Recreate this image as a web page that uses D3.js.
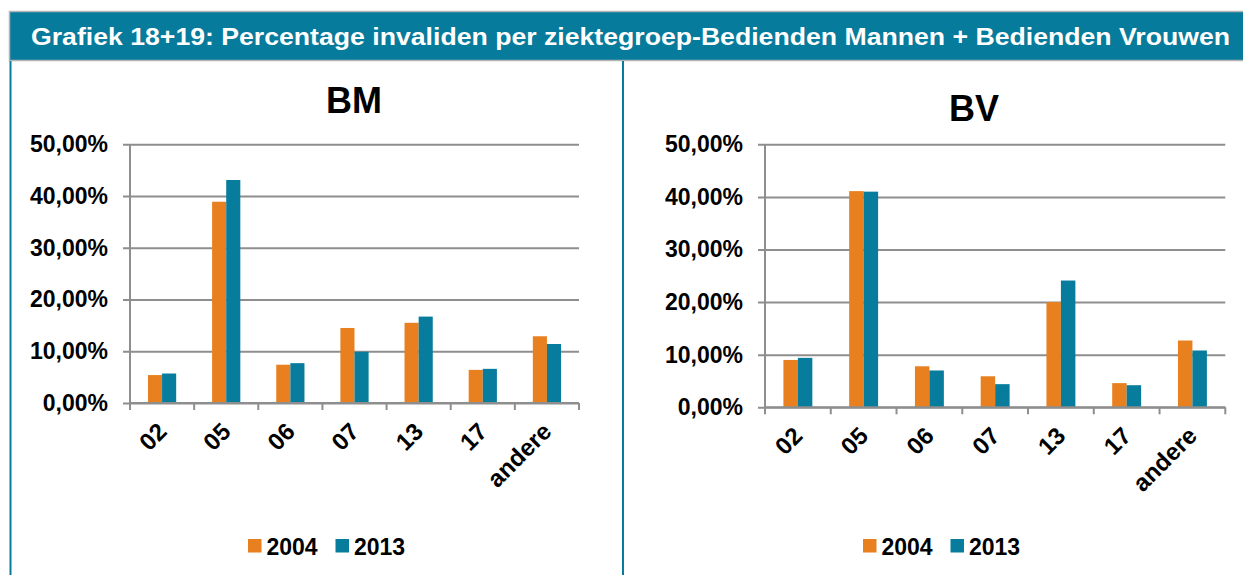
<!DOCTYPE html>
<html lang="nl">
<head>
  <meta charset="UTF-8">
  <title>Grafiek 18+19</title>
  <script src="https://d3js.org/d3.v7.min.js"></script>
  <style>
    body { margin: 0; background: #fff; }
    svg { display: block; font-family: "Liberation Sans", Arial, sans-serif; }
    .tick text { font-weight: bold; fill: #000; }
    .legend text { font-weight: bold; font-size: 23px; }
  </style>
</head>
<body>
  <div id="chart"></div>
  <script>
    // values (percent)
    const categories = ["02", "05", "06", "07", "13", "17", "andere"];
    const years = ["2004", "2013"];
    const bm2004 = [5.4, 38.9, 7.4, 14.5, 15.5, 6.4, 12.9];
    const bm2013 = [5.7, 43.1, 7.7, 9.9, 16.7, 6.6, 11.4];
    const bv2004 = [9.0, 41.1, 7.8, 5.9, 20.0, 4.6, 12.7];
    const bv2013 = [9.4, 41.0, 7.0, 4.4, 24.1, 4.2, 10.8];
    const yTicks = [0, 10, 20, 30, 40, 50];

    const colors = { "2004": "#e8801f", "2013": "#077c9c" };
    const teal = "#077b9b";
    const grid = "#8e8e8e";

    const W = 1243, H = 575;
    const svg = d3.select("#chart").append("svg")
      .attr("width", W)
      .attr("height", H);

    // header bar
    svg.append("rect")
      .attr("x", 9.5).attr("y", 11.5)
      .attr("width", 1240).attr("height", 49)
      .attr("fill", teal)
      .attr("stroke", "#b5b5b5")
      .attr("stroke-width", 1.5);

    svg.append("text")
      .attr("x", 31).attr("y", 45)
      .attr("fill", "#fff")
      .attr("font-size", 23)
      .attr("font-weight", "bold")
      .attr("textLength", 1199)
      .attr("lengthAdjust", "spacingAndGlyphs")
      .text("Grafiek 18+19: Percentage invaliden per ziektegroep-Bedienden Mannen + Bedienden Vrouwen");

    // panel borders
    svg.append("line").attr("x1", 10.5).attr("x2", 10.5).attr("y1", 61).attr("y2", H)
      .attr("stroke", teal).attr("stroke-width", 2);
    svg.append("line").attr("x1", 623).attr("x2", 623).attr("y1", 61).attr("y2", H)
      .attr("stroke", teal).attr("stroke-width", 2);

    const fmt = d => d.toFixed(2).replace(".", ",") + "%";

    const panels = [
      { title: "BM", titleX: 354, titleY: 113, x0: 130, x1: 579, y0: 403, y1: 144.3,
        series: { "2004": bm2004, "2013": bm2013 }, legendX: 248 },
      { title: "BV", titleX: 974, titleY: 121, x0: 765, x1: 1225.3, y0: 407.3, y1: 144.3,
        series: { "2004": bv2004, "2013": bv2013 }, legendX: 863 }
    ];

    panels.forEach(p => {
      const g = svg.append("g");

      const x = d3.scaleBand().domain(categories).range([p.x0, p.x1]).padding(0);
      const bw = x.bandwidth();
      const xSub = d3.scaleBand().domain(years).range([bw * 0.28, bw * 0.72]).padding(0);
      const y = d3.scaleLinear().domain([0, 50]).range([p.y0, p.y1]);

      // title
      g.append("text")
        .attr("x", p.titleX).attr("y", p.titleY)
        .attr("text-anchor", "middle")
        .attr("font-size", 36)
        .attr("font-weight", "bold")
        .text(p.title);

      // y axis with gridlines
      const ya = g.append("g")
        .attr("transform", `translate(${p.x0},0)`)
        .call(d3.axisLeft(y).tickValues(yTicks).tickFormat(fmt)
          .tickSize(-(p.x1 - p.x0)).tickSizeOuter(0));
      ya.select(".domain").remove();
      ya.selectAll(".tick line")
        .attr("x1", -7)
        .attr("stroke", grid)
        .attr("stroke-width", 2);
      ya.selectAll(".tick text")
        .attr("x", -22)
        .attr("font-size", 23);

      // y axis line
      g.append("line")
        .attr("x1", p.x0).attr("x2", p.x0)
        .attr("y1", y(50)).attr("y2", y(0) + 6)
        .attr("stroke", grid).attr("stroke-width", 2);

      // bars
      years.forEach(yr => {
        g.append("g").selectAll("rect")
          .data(categories.map((c, i) => ({ c, v: p.series[yr][i] })))
          .join("rect")
          .attr("x", d => x(d.c) + xSub(yr))
          .attr("y", d => y(d.v))
          .attr("width", xSub.bandwidth())
          .attr("height", d => y(0) - y(d.v))
          .attr("fill", colors[yr]);
      });

      // x axis line + boundary ticks
      g.append("line")
        .attr("x1", p.x0).attr("x2", p.x1)
        .attr("y1", y(0)).attr("y2", y(0))
        .attr("stroke", grid).attr("stroke-width", 2);
      const bounds = categories.map(c => x(c)).concat([p.x1]);
      g.append("g").selectAll("line")
        .data(bounds)
        .join("line")
        .attr("x1", d => d).attr("x2", d => d)
        .attr("y1", y(0)).attr("y2", y(0) + 7)
        .attr("stroke", grid).attr("stroke-width", 2);

      // category labels
      const xa = g.append("g")
        .attr("transform", `translate(0,${y(0)})`)
        .call(d3.axisBottom(x).tickSize(0));
      xa.select(".domain").remove();
      xa.selectAll(".tick text")
        .attr("x", 0).attr("y", 0).attr("dy", 0)
        .attr("text-anchor", "end")
        .attr("font-size", 24)
        .attr("transform", "translate(6,30) rotate(-45)");

      // legend
      const lg = g.append("g").attr("class", "legend")
        .attr("transform", `translate(${p.legendX},539)`);
      const items = lg.selectAll("g")
        .data(years)
        .join("g")
        .attr("transform", (d, i) => `translate(${i * 87.5},0)`);
      items.append("rect")
        .attr("width", 13.5).attr("height", 13.5)
        .attr("fill", d => colors[d]);
      items.append("text")
        .attr("x", 18.5).attr("y", 15.5)
        .text(d => d);
    });
  </script>
</body>
</html>
